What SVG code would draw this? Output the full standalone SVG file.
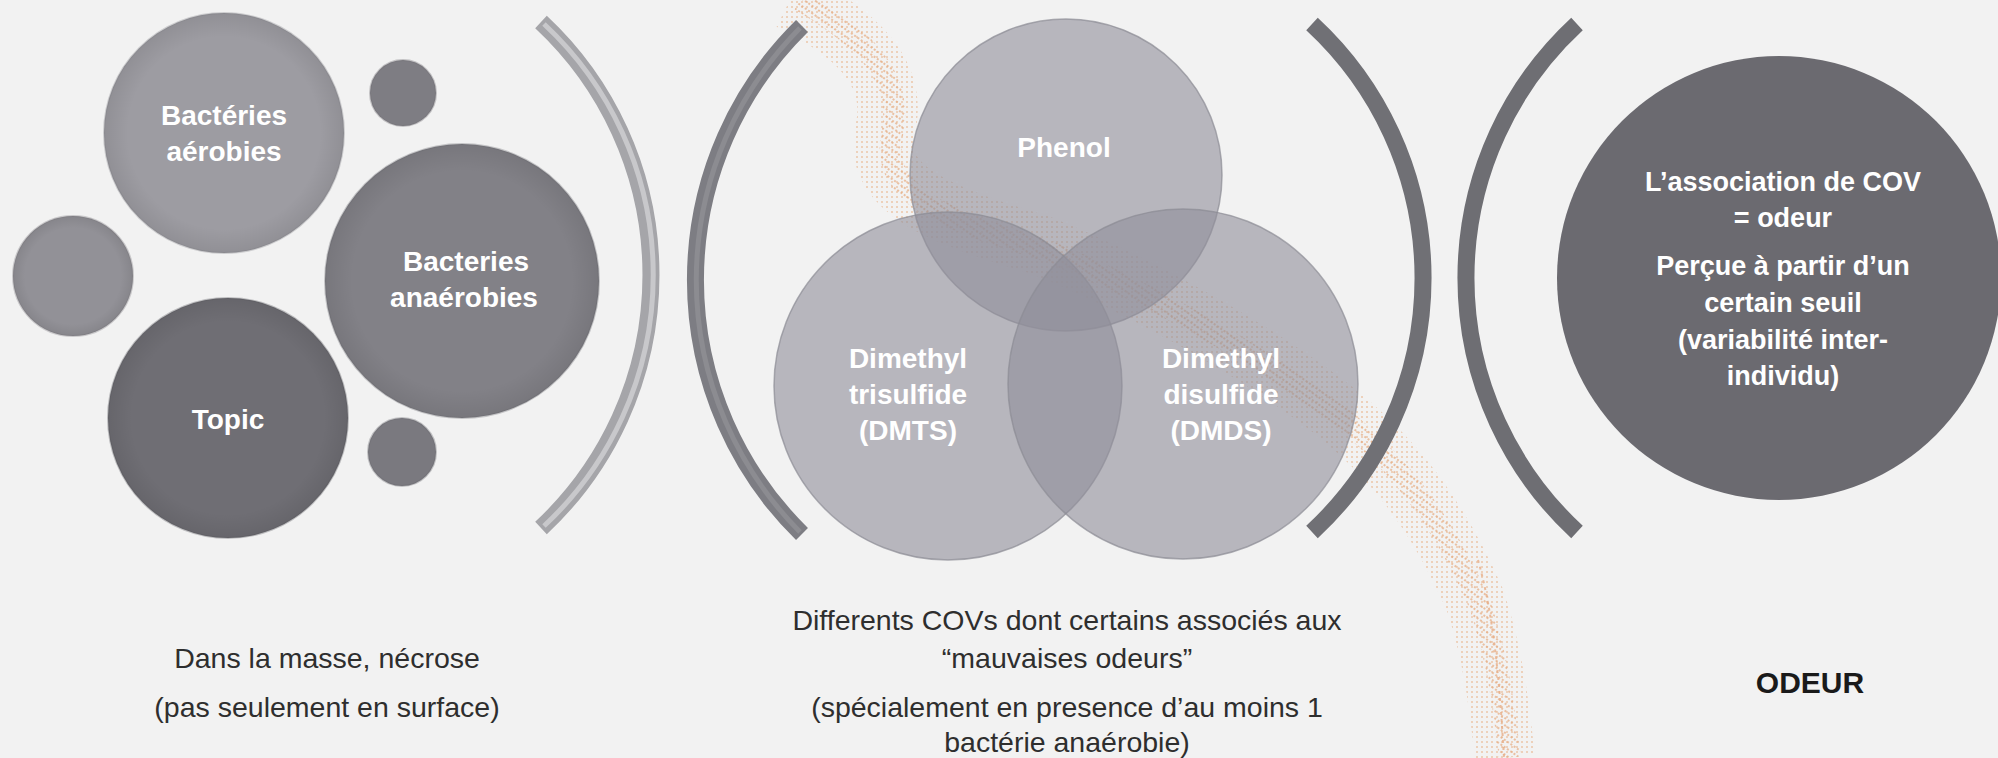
<svg xmlns="http://www.w3.org/2000/svg" width="1998" height="758" viewBox="0 0 1998 758">
  <defs>
    <pattern id="dots" width="5" height="5" patternUnits="userSpaceOnUse">
      <circle cx="2" cy="2" r="1" fill="#e59a5e"/>
    </pattern>
    <pattern id="dots2" width="4" height="6" patternUnits="userSpaceOnUse" patternTransform="rotate(35)">
      <circle cx="1" cy="1" r="1" fill="#e08a4a"/>
    </pattern>
    <radialGradient id="rim" cx="0.5" cy="0.5" r="0.5">
      <stop offset="0.8" stop-color="#000000" stop-opacity="0"/>
      <stop offset="1" stop-color="#000000" stop-opacity="0.08"/>
    </radialGradient>
    <style>
      .lbl { font-family: "Liberation Sans", Arial, sans-serif; font-weight: bold; fill: #ffffff; text-anchor: middle; }
      .cap { font-family: "Liberation Sans", Arial, sans-serif; fill: #2e2e2e; text-anchor: middle; font-size: 28.5px; }
      .venn { fill: #8f8d99; fill-opacity: 0.6; stroke: #8c8b94; stroke-width: 1.5; stroke-opacity: 0.7; }
      .bub { stroke-width: 2; stroke-opacity: 0.35; }
      .arc { fill: none; stroke-width: 17; }
    </style>
  </defs>

  <rect width="1998" height="758" fill="#f2f2f2"/>

  <!-- decorative orange particle wave -->
  <g id="wave" fill="none" opacity="0.7">
    <path d="M790,0 C850,30 900,70 885,130 C872,190 940,215 1040,245 C1140,285 1245,345 1320,400 C1395,455 1440,520 1475,600 C1495,660 1500,715 1505,758" stroke="url(#dots)" stroke-width="60" opacity="0.7"/>
    <path d="M800,0 C860,35 905,75 892,135 C880,195 945,220 1045,250 C1145,290 1250,350 1325,405 C1400,460 1445,525 1480,605 C1500,665 1505,720 1510,758" stroke="url(#dots2)" stroke-width="22" opacity="0.9"/>
    <path d="M1478,560 C1495,620 1500,690 1504,758" stroke="#e3915a" stroke-width="2" stroke-dasharray="3 4" opacity="0.8"/>
  </g>

  <!-- left group -->
  <g id="node-aerobies">
    <circle class="bub" cx="224" cy="133" r="120" fill="#9d9ca2" stroke="#8a898f"/>
    <circle cx="224" cy="133" r="120" fill="url(#rim)"/>
    <text class="lbl" font-size="28" x="224" y="125">Bactéries</text>
    <text class="lbl" font-size="28" x="224" y="161">aérobies</text>
  </g>
  <g id="node-small-left">
    <circle class="bub" cx="73" cy="276" r="60" fill="#929197" stroke="#807f85"/>
    <circle cx="73" cy="276" r="60" fill="url(#rim)"/>
  </g>
  <g id="node-small-top">
    <circle class="bub" cx="403" cy="93" r="33" fill="#7e7d83" stroke="#6c6b71"/>
  </g>
  <g id="node-anaerobies">
    <circle class="bub" cx="462" cy="281" r="137" fill="#828187" stroke="#707075"/>
    <circle cx="462" cy="281" r="137" fill="url(#rim)"/>
    <text class="lbl" font-size="28" x="466" y="271">Bacteries</text>
    <text class="lbl" font-size="28" x="464" y="307">anaérobies</text>
  </g>
  <g id="node-topic">
    <circle class="bub" cx="228" cy="418" r="120" fill="#6f6e74" stroke="#5f5e64"/>
    <circle cx="228" cy="418" r="120" fill="url(#rim)"/>
    <text class="lbl" font-size="28" x="228" y="429">Topic</text>
  </g>
  <g id="node-small-bottom">
    <circle class="bub" cx="402" cy="452" r="34" fill="#7a797f" stroke="#68676d"/>
  </g>

  <!-- brackets -->
  <g id="brackets">
    <path class="arc" d="M541,22 A346,346 0 0 1 541,528" stroke="#a5a5a9"/>
    <path d="M544,24 A343,343 0 0 1 544,526" fill="none" stroke="#c8c8cb" stroke-width="5"/>
    <path class="arc" d="M802,26 A356,356 0 0 0 802,534" stroke="#7d7d83"/>
    <path d="M800,28 A358,358 0 0 0 800,532" fill="none" stroke="#8c8c91" stroke-width="5"/>
    <path class="arc" d="M1312,24 A346,346 0 0 1 1312,532" stroke="#707075"/>
    <path class="arc" d="M1577,24 A346,346 0 0 0 1577,532" stroke="#6e6e73"/>
  </g>

  <!-- Venn -->
  <g id="node-phenol">
    <circle class="venn" cx="1066" cy="175" r="156"/>
  </g>
  <g id="node-dmts">
    <circle class="venn" cx="948" cy="386" r="174"/>
  </g>
  <g id="node-dmds">
    <circle class="venn" cx="1183" cy="384" r="175"/>
  </g>
  <g id="venn-labels">
    <text class="lbl" font-size="28" x="1064" y="157">Phenol</text>
    <text class="lbl" font-size="28" x="908" y="368">Dimethyl</text>
    <text class="lbl" font-size="28" x="908" y="404">trisulfide</text>
    <text class="lbl" font-size="28" x="908" y="440">(DMTS)</text>
    <text class="lbl" font-size="28" x="1221" y="368">Dimethyl</text>
    <text class="lbl" font-size="28" x="1221" y="404">disulfide</text>
    <text class="lbl" font-size="28" x="1221" y="440">(DMDS)</text>
  </g>

  <!-- right circle -->
  <g id="node-odeur-circle">
    <circle cx="1779" cy="278" r="222" fill="#6b6a70"/>
    <text class="lbl" font-size="27" x="1783" y="191">L’association de COV</text>
    <text class="lbl" font-size="27" x="1783" y="227">= odeur</text>
    <text class="lbl" font-size="27" x="1783" y="275">Perçue à partir d’un</text>
    <text class="lbl" font-size="27" x="1783" y="312">certain seuil</text>
    <text class="lbl" font-size="27" x="1783" y="349">(variabilité inter-</text>
    <text class="lbl" font-size="27" x="1783" y="385">individu)</text>
  </g>

  <!-- captions -->
  <g id="caption-left">
    <text class="cap" x="327" y="668">Dans la masse, nécrose</text>
    <text class="cap" x="327" y="717">(pas seulement en surface)</text>
  </g>
  <g id="caption-center">
    <text class="cap" x="1067" y="630">Differents COVs dont certains associés aux</text>
    <text class="cap" x="1067" y="668">“mauvaises odeurs”</text>
    <text class="cap" x="1067" y="717">(spécialement en presence d’au moins 1</text>
    <text class="cap" x="1067" y="752">bactérie anaérobie)</text>
  </g>
  <g id="caption-right">
    <text x="1810" y="693" font-family="Liberation Sans, Arial, sans-serif" font-weight="bold" font-size="30" fill="#1a1a1a" text-anchor="middle">ODEUR</text>
  </g>
</svg>
